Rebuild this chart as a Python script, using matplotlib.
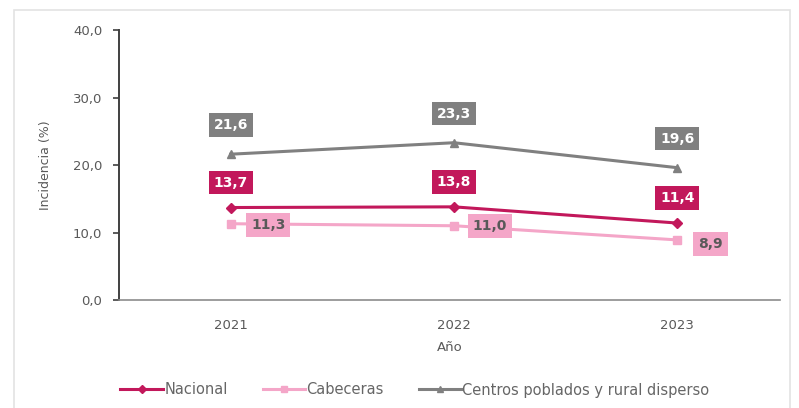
import matplotlib.pyplot as plt
from matplotlib.patches import Rectangle

# data
years = ['2021', '2022', '2023']
nacional = [13.7, 13.8, 11.4]
cabeceras = [11.3, 11.0, 8.9]
centros = [21.6, 23.3, 19.6]
yticks = [0, 10, 20, 30, 40]

C_NAC = '#C2185B'
C_CAB = '#F4A6C8'
C_CEN = '#808080'
TXT = '#595959'

plt.rcParams['font.family'] = ['DejaVu Sans']

fig = plt.figure(figsize=(7.99, 4.08), dpi=100)
fig.patches.append(Rectangle((14 / 799, -0.02), 776 / 799, 1 - 10 / 408 + 0.02,
                             transform=fig.transFigure, fill=False,
                             edgecolor='#e3e3e3', linewidth=1.2))
ax = fig.add_axes([119 / 799, 1 - 300 / 408, 661 / 799, 270 / 408])

x = list(range(len(years)))
ax.plot(x, nacional, color=C_NAC, lw=2.2, marker='D', ms=5, label='Nacional')
ax.plot(x, cabeceras, color=C_CAB, lw=2.2, marker='s', ms=6, label='Cabeceras')
ax.plot(x, centros, color=C_CEN, lw=2.2, marker='^', ms=6,
        label='Centros poblados y rural disperso')

def fmt(v):
    return f'{v:.1f}'.replace('.', ',')

box = dict(boxstyle='square,pad=0.35', edgecolor='none')
for i, v in enumerate(centros):
    ax.annotate(fmt(v), (i, v), xytext=(0, 21), textcoords='offset points',
                ha='center', va='center', fontsize=10, fontweight='bold',
                color='white', bbox=dict(box, facecolor=C_CEN))
for i, v in enumerate(nacional):
    ax.annotate(fmt(v), (i, v), xytext=(0, 18), textcoords='offset points',
                ha='center', va='center', fontsize=10, fontweight='bold',
                color='white', bbox=dict(box, facecolor=C_NAC))
cab_off = [(27, -1), (26, 0), (24, -3)]
for i, v in enumerate(cabeceras):
    ax.annotate(fmt(v), (i, v), xytext=cab_off[i], textcoords='offset points',
                ha='center', va='center', fontsize=10, fontweight='bold',
                color=TXT, bbox=dict(box, facecolor=C_CAB))

ax.set_xlim(-0.5, 2.46)
ax.set_ylim(0, 40)
ax.set_xticks(x)
ax.set_xticklabels(years)
ax.set_yticks(yticks)
ax.set_yticklabels([fmt(t) for t in yticks])
ax.tick_params(axis='x', length=0, pad=14, labelsize=9.5, labelcolor=TXT)
ax.tick_params(axis='y', length=4, width=1.2, color='#404040', pad=8,
               labelsize=9.5, labelcolor=TXT)
for s in ['top', 'right']:
    ax.spines[s].set_visible(False)
ax.spines['left'].set_color('#404040')
ax.spines['left'].set_linewidth(1.4)
ax.spines['bottom'].set_color('#8c8c8c')
ax.spines['bottom'].set_linewidth(1.2)

ax.set_xlabel('Año', fontsize=9.5, color=TXT, labelpad=6)
ax.set_ylabel('Incidencia (%)', fontsize=9, color=TXT, labelpad=15)

fig.legend(loc='center', bbox_to_anchor=(415 / 799, 1 - 390 / 408), ncol=3,
           frameon=False, fontsize=10.5, labelcolor='#666666', handlelength=2.9,
           handletextpad=0.1, columnspacing=2.4, markerscale=0.8)

fig.savefig('out.png', dpi=100, facecolor='white')
